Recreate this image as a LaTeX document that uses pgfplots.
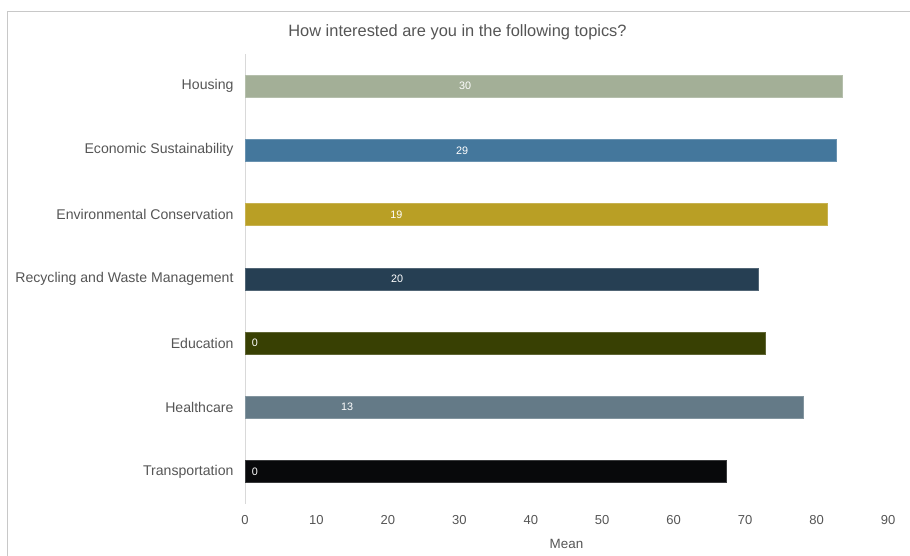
\documentclass[border=0pt]{standalone}
\usepackage{pgfplots}
\pgfplotsset{compat=1.18}
\usepackage{pgfplotstable}
\usepackage{fontspec}
\setmainfont{Liberation Sans}
\definecolor{txt}{HTML}{555555}
\definecolor{frame}{HTML}{C8C8C8}
\definecolor{axl}{HTML}{D9D9D9}
\definecolor{cHousing}{HTML}{A3AF97}
\definecolor{cEcon}{HTML}{44779C}
\definecolor{cEnv}{HTML}{B99F25}
\definecolor{cRec}{HTML}{263F53}
\definecolor{cEdu}{HTML}{384003}
\definecolor{cHealth}{HTML}{647A87}
\definecolor{cTrans}{HTML}{08090B}
\pgfplotstableread{
y val labpos lab
0 67.3 1.4 0
1 78.2 14.3 13
2 72.8 1.4 0
3 71.9 21.3 20
4 81.5 21.2 19
5 82.7 30.4 29
6 83.6 30.8 30
}\datatab
\begin{document}
\begin{tikzpicture}
\useasboundingbox (0,0) rectangle (910bp,556bp);
\draw[frame, line width=0.8bp] (7bp,0) -- (7bp,545bp) -- (910bp,545bp);
\node[txt, font=\fontsize{16.4bp}{19bp}\selectfont] at (457.5bp,524bp) {How interested are you in the following topics?};
\begin{axis}[
  at={(245bp,52.4bp)}, anchor=south west,
  scale only axis, width=643bp, height=449.6bp,
  xmin=0, xmax=90, ymin=-0.5, ymax=6.5,
  xtick={0,10,...,90},
  ytick={0,...,6},
  yticklabels={Transportation,Healthcare,Education,Recycling and Waste Management,Environmental Conservation,Economic Sustainability,Housing},
  major tick length=0pt,
  separate axis lines,
  x axis line style={draw=none},
  y axis line style={draw=axl, line width=0.8bp},
  axis x line*=bottom, axis y line*=left,
  /pgf/number format/assume math mode=true,
  xticklabel style={font=\fontsize{13bp}{15bp}\selectfont, text=txt, anchor=north, yshift=-8bp},
  yticklabel style={font=\fontsize{14.1bp}{16bp}\selectfont, text=txt, anchor=east, xshift=-8bp},
  xlabel={Mean},
  xlabel style={font=\fontsize{13.4bp}{15bp}\selectfont, text=txt, yshift=-8bp},
  bar width=22bp, bar shift=0pt,
  clip=false,
]
\addplot[xbar, fill=cTrans, draw=cTrans!80!white, line width=0.4bp] coordinates {(67.3,0)};
\addplot[xbar, fill=cHealth, draw=cHealth!80!white, line width=0.4bp] coordinates {(78.2,1)};
\addplot[xbar, fill=cEdu, draw=cEdu!80!white, line width=0.4bp] coordinates {(72.8,2)};
\addplot[xbar, fill=cRec, draw=cRec!80!white, line width=0.4bp] coordinates {(71.9,3)};
\addplot[xbar, fill=cEnv, draw=cEnv!80!white, line width=0.4bp] coordinates {(81.5,4)};
\addplot[xbar, fill=cEcon, draw=cEcon!80!white, line width=0.4bp] coordinates {(82.7,5)};
\addplot[xbar, fill=cHousing, draw=cHousing!80!white, line width=0.4bp] coordinates {(83.6,6)};
\addplot[draw=none, mark=none, nodes near coords, point meta=explicit symbolic,
  nodes near coords style={text=white, font=\fontsize{10.8bp}{12bp}\selectfont, anchor=center}]
  table[x=labpos, y=y, meta=lab] {\datatab};
\end{axis}
\end{tikzpicture}
\end{document}
